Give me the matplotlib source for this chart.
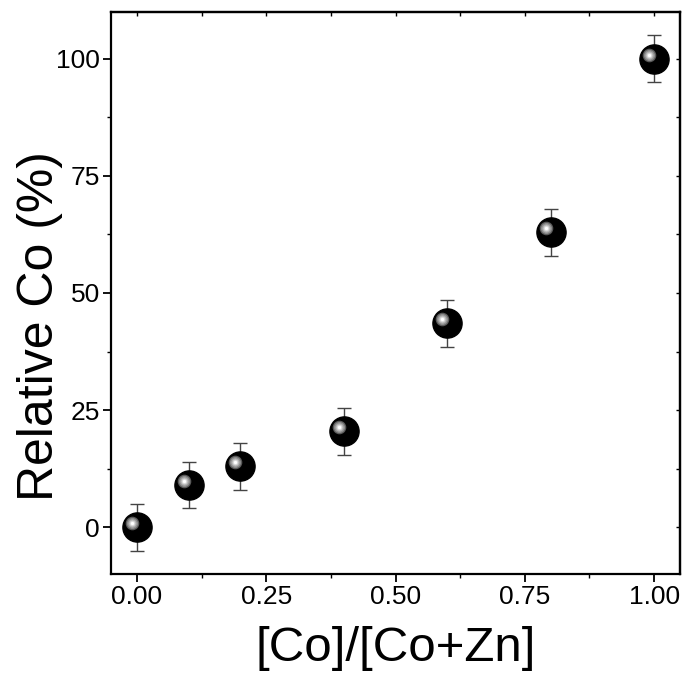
import matplotlib
matplotlib.use("Agg")
import matplotlib.pyplot as plt
import matplotlib.transforms as mtransforms
from matplotlib.ticker import MultipleLocator, NullFormatter

plt.rcParams['font.family'] = ['Liberation Sans', 'DejaVu Sans']

# Co fraction in the precursor vs. relative Co content
co_fraction = [0.0, 0.1, 0.2, 0.4, 0.6, 0.8, 1.0]
relative_co = [0.0, 9.0, 13.0, 20.5, 43.5, 63.0, 100.0]
relative_co_err = [5.0, 5.0, 5.0, 5.0, 5.0, 5.0, 5.0]

x_ticks = [0.00, 0.25, 0.50, 0.75, 1.00]
x_tick_labels = ["0.00", "0.25", "0.50", "0.75", "1.00"]
y_ticks = [0, 25, 50, 75, 100]
y_tick_labels = ["0", "25", "50", "75", "100"]

fig = plt.figure(figsize=(6.86, 6.76), dpi=100)
ax = fig.add_axes([111 / 686, 1 - 574 / 676, (680 - 111) / 686, (574 - 12) / 676])

ax.errorbar(co_fraction, relative_co, yerr=relative_co_err, fmt='none',
            ecolor='#444444', elinewidth=1.0, capsize=5, capthick=1.0, zorder=2)

# shaded sphere markers: black ball with an offset highlight
ax.plot(co_fraction, relative_co, 'o', ms=21, color='black', mec='black', zorder=3)
hl = mtransforms.offset_copy(ax.transData, fig=fig, x=-5.0, y=4.0, units='dots')
for size, col in [(9.8, '#5a5a5a'), (8.0, '#8c8c8c'), (6.0, '#b0b0b0'),
                  (4.2, '#d8d8d8'), (2.4, '#ffffff')]:
    ax.plot(co_fraction, relative_co, 'o', ms=size, color=col, mec='none',
            transform=hl, zorder=4)

ax.set_xlim(-0.05, 1.05)
ax.set_ylim(-10, 110)
ax.set_xticks(x_ticks)
ax.set_xticklabels(x_tick_labels)
ax.set_yticks(y_ticks)
ax.set_yticklabels(y_tick_labels)
ax.xaxis.set_minor_locator(MultipleLocator(0.125))
ax.yaxis.set_minor_locator(MultipleLocator(12.5))

for s in ax.spines.values():
    s.set_linewidth(1.6)

ax.tick_params(which='major', direction='out', length=6, width=1.3,
               labelsize=19, pad=2)
ax.tick_params(which='minor', direction='out', length=3, width=1.0)

top = ax.secondary_xaxis('top')
top.set_xticks(x_ticks)
top.xaxis.set_minor_locator(MultipleLocator(0.125))
top.xaxis.set_major_formatter(NullFormatter())
top.tick_params(which='both', direction='in', length=3, width=1.0)
top.spines['top'].set_linewidth(1.6)

right = ax.secondary_yaxis('right')
right.set_yticks(y_ticks)
right.yaxis.set_minor_locator(MultipleLocator(12.5))
right.yaxis.set_major_formatter(NullFormatter())
right.tick_params(which='both', direction='in', length=3, width=1.0)
right.spines['right'].set_linewidth(1.6)

ax.set_xlabel('[Co]/[Co+Zn]', fontsize=35.5, labelpad=12)
ax.set_ylabel('Relative Co (%)', fontsize=36)
ax.yaxis.set_label_coords(-0.085, 0.441)

fig.savefig('out.png', dpi=100)
